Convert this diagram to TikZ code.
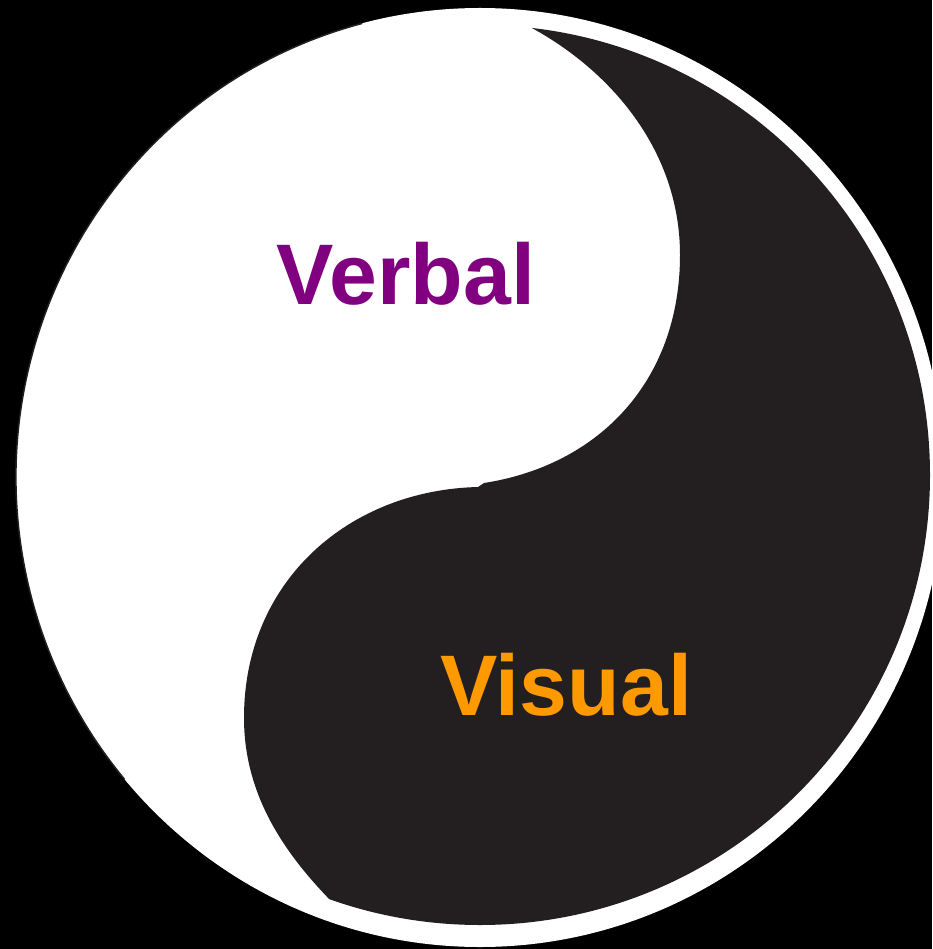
\documentclass[tikz,border=0pt]{standalone}
\usepackage{fontspec}
\setmainfont{Liberation Sans}
\definecolor{yydark}{HTML}{231F20}
\definecolor{verbalc}{HTML}{800080}
\definecolor{visualc}{HTML}{FF9900}
\begin{document}
\begin{tikzpicture}[x=1pt,y=1pt,
  label/.style={font=\fontsize{86}{86}\selectfont\bfseries, inner sep=0pt, anchor=base}]
\useasboundingbox (0,0) rectangle (932,-949);
\fill[black] (0,0) rectangle (932,-949);
% outer white disc
\fill[white] (480,-477.5) ellipse [x radius=464, y radius=469.5];
% thin dark outline on the left side
\draw[yydark, line width=1.5pt] (480,-477.5) ++(104.7:464 and 469.5)
  arc [start angle=104.7, end angle=220, x radius=464, y radius=469.5];
% dark half
\begin{scope}
  \clip (530,-27) .. controls (610,-70) and (680,-150) .. (680,-255)
     .. controls (680,-380) and (600,-465) .. (484,-483)
     -- (478,-487) .. controls (350,-490) and (244,-580) .. (244,-718)
     .. controls (244,-800) and (290,-860) .. (337,-907)
     -- (320,-990) -- (1000,-990) -- (1000,20) -- (530,20) -- cycle;
  \fill[yydark] (480,-475) circle [radius=450];
\end{scope}
\node[label, text=verbalc] (verbal) at (406,-305) {Verbal};
\node[label, text=visualc] (visual) at (566,-715) {Visual};
\end{tikzpicture}
\end{document}
